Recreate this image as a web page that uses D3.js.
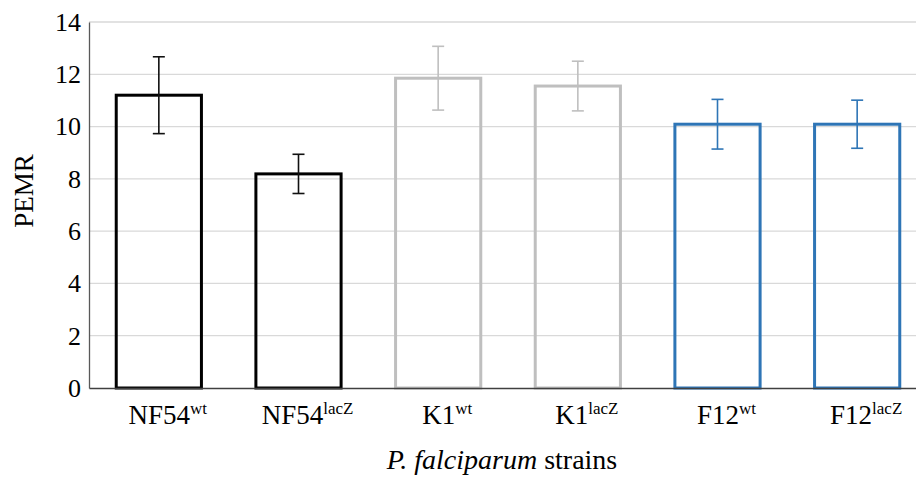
<!DOCTYPE html>
<html><head><meta charset="utf-8">
<script src="https://cdn.jsdelivr.net/npm/d3@7"></script>
<style>body{margin:0;background:#fff}svg{display:block}
svg text{font-family:"Liberation Serif","Times New Roman","DejaVu Serif","Noto Serif",serif !important;}</style>
</head><body>
<svg id="c" width="916" height="477"></svg>
<script>
const strains = ["NF54", "NF54", "K1", "K1", "F12", "F12"];
const suffixes = ["wt", "lacZ", "wt", "lacZ", "wt", "lacZ"];
const values = [11.2, 8.19, 11.85, 11.55, 10.09, 10.09];
const errors = [1.47, 0.75, 1.22, 0.95, 0.95, 0.92];
const colors = ["#000000", "#000000", "#bfbfbf", "#bfbfbf", "#2e75b6", "#2e75b6"];
const yTicks = [0, 2, 4, 6, 8, 10, 12, 14];

(function () {
const svg = d3.select("#c");
const W = 916, H = 477;
const mLeft = 89, mTop = 22, mBottom = 388, mRight = 927;
const x = d3.scaleBand().domain(d3.range(values.length)).range([mLeft, mRight]).paddingInner(0.39).paddingOuter(0.195);
const y = d3.scaleLinear().domain([0, 14]).range([mBottom, mTop]);

// gridlines
svg.append("g").selectAll("line").data(yTicks.filter(d => d > 0)).join("line")
  .attr("x1", mLeft).attr("x2", W).attr("y1", d => y(d)).attr("y2", d => y(d))
  .attr("stroke", "#d9d9d9").attr("stroke-width", 1.3);

// y axis
const yAxis = svg.append("g").attr("transform", `translate(${mLeft},0)`)
  .call(d3.axisLeft(y).tickValues(yTicks).tickSize(0).tickPadding(8));
yAxis.attr("font-family", null).attr("font-size", null);
yAxis.select(".domain").attr("stroke", "#595959").attr("stroke-width", 1.3);
yAxis.selectAll("text").style("font-size", "26px").attr("fill", "#000");

// bars
svg.append("g").selectAll("rect").data(values).join("rect")
  .attr("x", (d, i) => x(i)).attr("width", x.bandwidth())
  .attr("y", d => y(d)).attr("height", d => y(0) - y(d))
  .attr("fill", "none").attr("stroke", (d, i) => colors[i]).attr("stroke-width", 3);

// baseline x axis
const xAxis = svg.append("g").attr("transform", `translate(0,${mBottom})`)
  .call(d3.axisBottom(x).tickSize(0).tickFormat(""));
xAxis.select(".domain").attr("stroke", "#404040").attr("stroke-width", 1.5);

// error bars
const eb = svg.append("g");
values.forEach((v, i) => {
  const cx = x(i) + x.bandwidth() / 2;
  const c = colors[i] === "#000000" ? "#111" : colors[i];
  const g = eb.append("g").attr("stroke", c).attr("stroke-width", 1.6);
  g.append("line").attr("x1", cx).attr("x2", cx).attr("y1", y(v + errors[i])).attr("y2", y(v - errors[i]));
  g.append("line").attr("x1", cx - 6).attr("x2", cx + 6).attr("y1", y(v + errors[i])).attr("y2", y(v + errors[i]));
  g.append("line").attr("x1", cx - 6).attr("x2", cx + 6).attr("y1", y(v - errors[i])).attr("y2", y(v - errors[i]));
});

// category labels
const lab = svg.append("g");
strains.forEach((s, i) => {
  const t = lab.append("text").attr("x", x(i) + x.bandwidth() / 2 + 9).attr("y", 424)
    .attr("text-anchor", "middle").style("font-size", "27px").attr("fill", "#000");
  t.append("tspan").text(s);
  t.append("tspan").text(suffixes[i]).style("font-size", "17px").attr("dy", -10);
});

// y title
svg.append("text").attr("transform", "translate(33,191) rotate(-90)")
  .attr("text-anchor", "middle").style("font-size", "27px").attr("fill", "#000").text("PEMR");

// x title
const xt = svg.append("text").attr("x", 502).attr("y", 469).attr("text-anchor", "middle")
  .style("font-size", "28px").attr("fill", "#000");
xt.append("tspan").style("font-style", "italic").text("P. falciparum");
xt.append("tspan").text(" strains");
})();
</script>
</body></html>
